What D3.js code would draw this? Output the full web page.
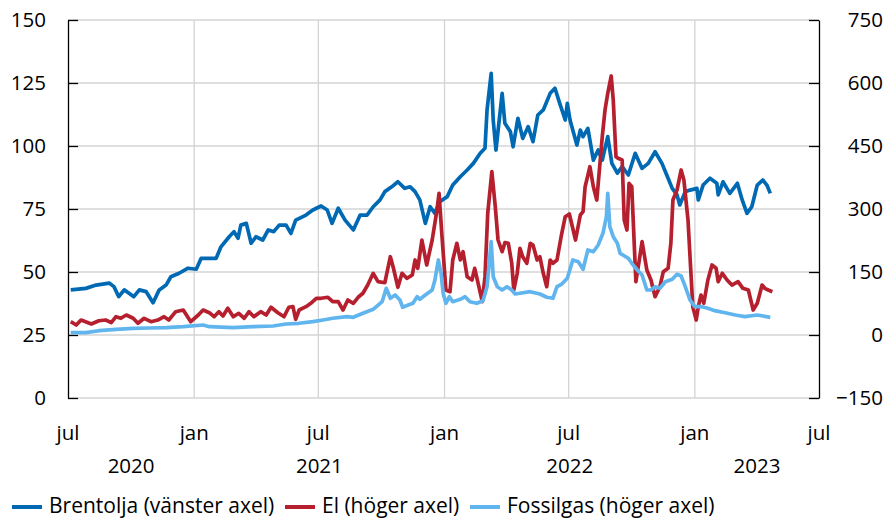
<!DOCTYPE html>
<html>
<head>
<meta charset="utf-8">
<script src="https://cdn.jsdelivr.net/npm/d3@7"></script>
<style>
  body { margin: 0; background: #fff; }
  svg text { font-family: "Open Sans", sans-serif; fill: #000; }
</style>
</head>
<body>
<script>
// days counted from 2020-07-01
var startDate = new Date(2020, 6, 1);

var brentDays = [4, 26, 41, 60, 67, 74, 82, 89, 96, 104, 114, 124, 133, 143, 150, 162, 175, 187, 194, 206, 216, 223, 235, 242, 248, 252, 260, 267, 274, 284, 292, 300, 308, 318, 325, 332, 347, 357, 369, 378, 385, 394, 404, 416, 426, 436, 445, 455, 462, 472, 481, 491, 499, 506, 513, 521, 528, 535, 542, 553, 561, 572, 582, 591, 601, 608, 611, 617, 620, 624, 633, 637, 645, 649, 656, 663, 671, 678, 685, 693, 703, 710, 717, 725, 728, 732, 742, 747, 751, 758, 766, 773, 779, 787, 793, 801, 808, 817, 827, 837, 846, 856, 866, 873, 881, 888, 892, 900, 907, 917, 919, 926, 936, 946, 948, 955, 965, 976, 983, 990, 997, 1005, 1013, 1019, 1024];
var brentValues = [42.9, 43.5, 44.8, 45.6, 44.2, 40.2, 42.9, 41.6, 40.2, 42.9, 42.2, 37.8, 42.9, 44.8, 48.1, 49.5, 51.5, 51.1, 55.4, 55.4, 55.4, 60, 64, 66, 63.4, 68.6, 69.3, 61.4, 64, 62.7, 66.7, 66, 68.6, 68.6, 65.3, 70.6, 72.6, 74.6, 76.2, 74.6, 69.3, 75.3, 70.6, 66.7, 72.6, 72.6, 75.9, 78.6, 81.9, 83.8, 85.8, 83.2, 83.8, 81.9, 78.6, 69.3, 75.9, 73.3, 77.9, 79.9, 84.5, 87.8, 90.5, 93.1, 97.1, 99.1, 114.3, 128.8, 110.3, 98.4, 120.9, 109, 105.7, 99.7, 111, 103, 107.7, 101.7, 112.3, 114.3, 120.9, 122.9, 116.9, 110.3, 116.9, 110.3, 100.4, 106.3, 103.7, 107, 94.4, 98.4, 94.4, 103.7, 93.1, 89.2, 91.8, 88.5, 97.1, 91.1, 93.1, 97.7, 93.1, 88.5, 83.2, 80.6, 76.6, 81.9, 82.5, 83.2, 78.6, 84.5, 87.2, 85.2, 80.6, 85.8, 81.2, 85.2, 78.6, 73.3, 75.9, 84.5, 86.5, 84.5, 81.2];

var elDays = [4, 12, 19, 34, 45, 55, 63, 70, 77, 85, 95, 102, 111, 121, 131, 140, 147, 157, 168, 179, 190, 197, 206, 213, 220, 226, 233, 241, 249, 257, 264, 271, 281, 289, 296, 306, 315, 322, 328, 332, 337, 347, 354, 362, 369, 379, 386, 394, 401, 408, 416, 423, 430, 437, 445, 452, 462, 470, 474, 481, 487, 494, 502, 506, 510, 516, 523, 531, 538, 541, 545, 551, 557, 561, 567, 572, 576, 582, 589, 593, 598, 604, 608, 612, 618, 623, 627, 633, 637, 642, 647, 650, 655, 659, 663, 669, 674, 678, 684, 688, 693, 698, 703, 707, 713, 719, 725, 731, 740, 747, 751, 754, 761, 766, 771, 779, 783, 787, 792, 795, 799, 802, 808, 811, 815, 818, 822, 828, 833, 837, 844, 850, 856, 863, 868, 875, 879, 882, 888, 894, 898, 904, 908, 911, 916, 919, 923, 927, 933, 939, 945, 948, 954, 961, 968, 977, 984, 992, 999, 1005, 1012, 1016, 1021, 1027];
var elValues = [31.7, 23.8, 35.7, 26.2, 34, 35.7, 29.3, 43.6, 39.8, 47.6, 39.8, 27.9, 39.8, 31.7, 35.7, 43.6, 35.7, 55.5, 59.5, 31.7, 47.6, 59.5, 53.1, 43.6, 55.5, 45.2, 63.6, 43.6, 51.7, 39.8, 55.5, 43.6, 55.5, 47.6, 66, 53.1, 43.6, 66, 67.4, 37.4, 59.5, 67.4, 75.5, 87.4, 87.4, 89.8, 79.3, 79.3, 59.5, 83.3, 75.5, 89.8, 99.3, 119, 146.9, 126.9, 124.5, 186.4, 162.6, 113.6, 146.9, 135, 142.9, 178.6, 158.8, 226.2, 166.7, 226.2, 297.6, 337.4, 242.1, 107.1, 103.1, 178.6, 218.4, 178.6, 198.3, 138.8, 131, 158.8, 123.1, 79.3, 138.8, 289.8, 388.8, 305.5, 226.2, 198.3, 219.8, 218.4, 170.7, 107.1, 146.9, 206.4, 186.4, 170.7, 218.4, 214.3, 178.6, 186.4, 146.9, 115, 178.6, 170.7, 178.6, 234, 281.7, 288, 226.2, 285.7, 293.6, 353.1, 400.7, 353.1, 321.4, 472.2, 535.7, 575.5, 616.7, 559.5, 424.5, 420.7, 416.7, 273.8, 250, 361.2, 353.1, 126.9, 178.6, 222.2, 154.8, 131, 91.2, 115, 150.7, 158.8, 218.4, 321.4, 345.2, 392.9, 369, 273.8, 154.8, 67.4, 35.7, 67.4, 95.2, 75.5, 131, 166.7, 158.8, 126.9, 146.9, 131, 119, 126.9, 111.2, 107.1, 59.5, 75.5, 119, 111.2, 107.1, 103.1];

var gasDays = [4, 26, 45, 70, 95, 118, 143, 168, 197, 206, 241, 270, 299, 318, 337, 357, 372, 386, 407, 416, 430, 445, 458, 464, 470, 477, 484, 488, 496, 503, 509, 513, 521, 531, 535, 540, 544, 547, 551, 556, 561, 572, 579, 586, 596, 605, 611, 617, 620, 626, 633, 640, 647, 652, 659, 674, 688, 698, 707, 713, 720, 728, 736, 744, 751, 758, 766, 773, 780, 785, 787, 790, 795, 801, 805, 809, 817, 822, 830, 837, 844, 850, 856, 863, 871, 881, 888, 894, 900, 907, 914, 924, 933, 943, 958, 973, 987, 1005, 1024];
var gasValues = [5.5, 5.5, 10.2, 13.6, 16, 16.7, 17.4, 19.8, 23.8, 19.8, 17.4, 19.8, 21.4, 26.2, 27.9, 31.7, 35.7, 39.8, 43.6, 42.1, 51.7, 61.2, 79.3, 111.2, 87.4, 95.2, 83.3, 66, 71.4, 75.5, 91.2, 85, 95.2, 107.1, 131, 178.6, 146.9, 99.3, 75.5, 91.2, 79.3, 85, 91.2, 79.3, 75.5, 81.7, 115, 222.2, 138.8, 115, 107.1, 115, 107.1, 97.6, 99.3, 103.1, 97.6, 89.8, 87.4, 115, 121.4, 135, 178.6, 174.5, 156.4, 202.4, 198.3, 214.3, 242.1, 281.7, 337.4, 257.9, 234, 218.4, 194.5, 190.5, 182.6, 170.7, 154.8, 142.9, 107.1, 107.1, 115, 111.2, 126.9, 132.6, 144.5, 140.5, 115, 83.3, 67.4, 67.4, 63.6, 57.9, 53.1, 47.6, 43.6, 47.6, 42.1];

var leftTicks = [0, 25, 50, 75, 100, 125, 150];
var rightTicks = [-150, 0, 150, 300, 450, 600, 750];
var monthTicks = ["2020-07-01", "2021-01-01", "2021-07-01", "2022-01-01", "2022-07-01", "2023-01-01", "2023-07-01"];
var monthLabels = ["jul", "jan", "jul", "jan", "jul", "jan", "jul"];
var yearLabels = ["2020", "2021", "2022", "2023"];

var seriesNames = ["Brentolja (vänster axel)", "El (höger axel)", "Fossilgas (höger axel)"];
var seriesColors = ["#0069b4", "#b51f2e", "#60b5ee"];

var W = 885, H = 519;
var padL = 68, padR = 819, padT = 20, padB = 398;

var parseDay = d3.timeParse("%Y-%m-%d");
var domainEnd = parseDay("2023-07-01");

var x = d3.scaleTime().domain([startDate, domainEnd]).range([padL, padR]);
var yL = d3.scaleLinear().domain([0, 150]).range([padB, padT]);
var yR = d3.scaleLinear().domain([-150, 750]).range([padB, padT]);

var svg = d3.select("body").append("svg")
  .attr("width", W).attr("height", H);

// grid
svg.append("g").selectAll("line").data(leftTicks).enter().append("line")
  .attr("x1", padL).attr("x2", padR)
  .attr("y1", function(d) { return yL(d); }).attr("y2", function(d) { return yL(d); })
  .style("stroke", "#d4d4d4").style("stroke-width", 1.3);

svg.append("g").selectAll("line").data(monthTicks.slice(1, -1)).enter().append("line")
  .attr("x1", function(d) { return x(parseDay(d)); }).attr("x2", function(d) { return x(parseDay(d)); })
  .attr("y1", padT).attr("y2", padB)
  .style("stroke", "#d4d4d4").style("stroke-width", 1.3);

// axes
var axL = svg.append("g").attr("transform", "translate(" + padL + ",0)")
  .call(d3.axisLeft(yL).tickValues(leftTicks).tickSize(-10).tickPadding(22).tickSizeOuter(0));
var axR = svg.append("g").attr("transform", "translate(" + padR + ",0)")
  .call(d3.axisRight(yR).tickValues(rightTicks).tickSize(-10).tickPadding(22).tickSizeOuter(0));

[axL, axR].forEach(function(ax) {
  ax.select(".domain").style("stroke", "#000").style("stroke-width", 1.3);
  ax.selectAll(".tick line").style("stroke", "#000").style("stroke-width", 1.3);
  ax.selectAll("text").style("font-size", "20.5px").style("font-family", "'Open Sans', sans-serif").attr("fill", "#000");
});
axR.selectAll("text").attr("text-anchor", "end").attr("x", 64);

// x labels
svg.append("g").selectAll("text").data(monthTicks).enter().append("text")
  .attr("x", function(d) { return x(parseDay(d)); })
  .attr("y", 440)
  .attr("text-anchor", "middle")
  .style("font-size", "20.5px")
  .text(function(d, i) { return monthLabels[i]; });

svg.append("g").selectAll("text").data(yearLabels).enter().append("text")
  .attr("x", function(d) {
    var a = d3.max([startDate, new Date(+d, 0, 1)]);
    var b = d3.min([domainEnd, new Date(+d + 1, 0, 1)]);
    return (x(a) + x(b)) / 2;
  })
  .attr("y", 473)
  .attr("text-anchor", "middle")
  .style("font-size", "20.5px")
  .text(function(d) { return d; });

// lines
function makeLine(yScale) {
  return d3.line()
    .x(function(d) { return x(d3.timeDay.offset(startDate, d[0])); })
    .y(function(d) { return yScale(d[1]); });
}

var series = [
  { days: brentDays, values: brentValues, y: yL },
  { days: elDays, values: elValues, y: yR },
  { days: gasDays, values: gasValues, y: yR }
];

series.forEach(function(s, i) {
  var pts = d3.zip(s.days, s.values);
  svg.append("path").datum(pts)
    .attr("d", makeLine(s.y))
    .style("fill", "none")
    .style("stroke", seriesColors[i])
    .style("stroke-width", 3.7)
    .style("stroke-linejoin", "round");
});

// legend
var legendX = [12, 285, 470];
var lg = svg.append("g");
seriesNames.forEach(function(name, i) {
  lg.append("line")
    .attr("x1", legendX[i]).attr("x2", legendX[i] + 30)
    .attr("y1", 507).attr("y2", 507)
    .style("stroke", seriesColors[i]).style("stroke-width", 4);
  lg.append("text")
    .attr("x", legendX[i] + 37).attr("y", 513)
    .style("font-size", "21px")
    .text(name);
});
</script>
</body>
</html>
